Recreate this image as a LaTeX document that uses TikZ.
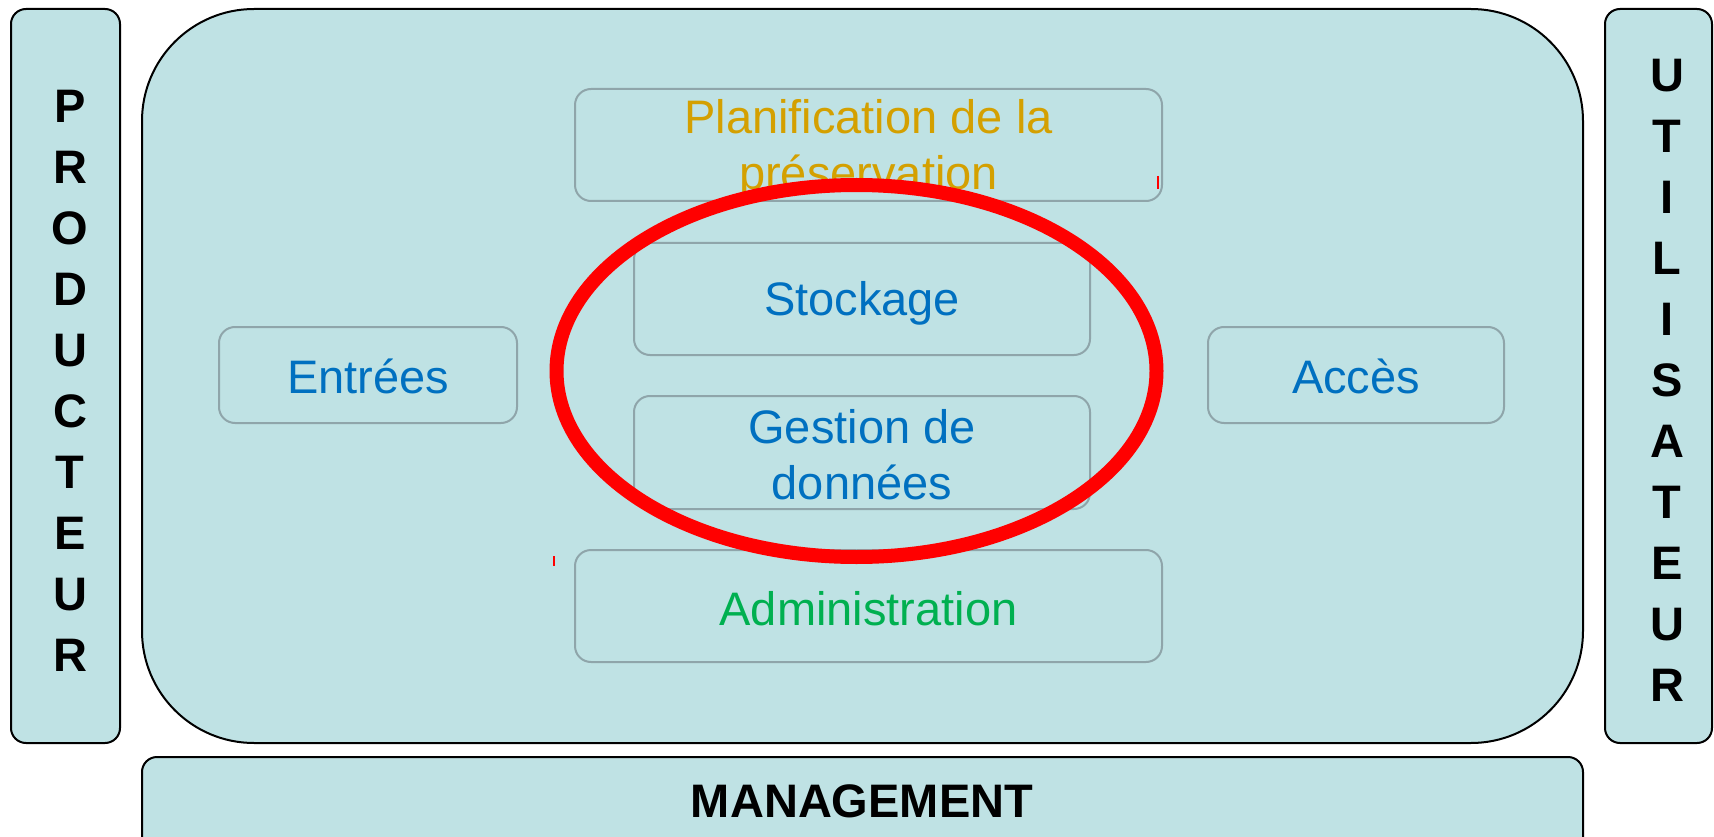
\documentclass[tikz,border=0pt]{standalone}
\usepackage{fontspec}
\setmainfont{Liberation Sans}
\usetikzlibrary{shapes.geometric}
\definecolor{panel}{RGB}{191,226,228}
\definecolor{boxgrey}{RGB}{143,165,170}
\definecolor{txtblue}{RGB}{0,112,192}
\definecolor{txtgold}{RGB}{212,160,0}
\definecolor{txtgreen}{RGB}{0,176,80}
\definecolor{marker}{RGB}{255,0,0}
\begin{document}
\begin{tikzpicture}[x=1pt,y=-1pt,
  outerbox/.style={draw=black, line width=2pt, fill=panel, rounded corners=15pt, inner sep=0pt},
  innerbox/.style={draw=boxgrey, line width=2pt, rounded corners=16pt, inner sep=0pt},
  boxlabel/.style={align=center, inner sep=0pt, font=\fontsize{47}{56}\selectfont},
  sidetext/.style={align=center, font=\bfseries\fontsize{47}{61}\selectfont, inner sep=0pt}]
\useasboundingbox (0,0) rectangle (1714,837);

% side panels and the central archive area
\node[outerbox, minimum width=109pt, minimum height=734pt] (prodbox) at (65.5,376) {};
\node[outerbox, minimum width=107pt, minimum height=734pt] (userbox) at (1658.5,376) {};
\node[outerbox, rounded corners=112pt, minimum width=1441pt, minimum height=734pt] (archive) at (862.5,376) {};
\node[outerbox, minimum width=1441pt, minimum height=110pt] (mgmtbox) at (862.5,812) {};

% vertical labels
\node[sidetext] (prod) at (70,381) {P\\R\\O\\D\\U\\C\\T\\E\\U\\R};
\node[sidetext] (user) at (1667,380) {U\\T\\I\\L\\I\\S\\A\\T\\E\\U\\R};
\node[font=\bfseries\fontsize{47}{56}\selectfont, inner sep=0pt] (mgmt) at (862,801) {MANAGEMENT};

% functional entities
\node[innerbox, minimum width=587pt, minimum height=112pt] (plan) at (868.5,145) {};
\node[innerbox, minimum width=456pt, minimum height=112pt] (stock) at (862,299) {};
\node[innerbox, minimum width=456pt, minimum height=113pt] (gest) at (862,452.5) {};
\node[innerbox, minimum width=587pt, minimum height=112pt] (admin) at (868.5,606) {};
\node[innerbox, minimum width=298pt, minimum height=96pt] (entree) at (368,375) {};
\node[innerbox, minimum width=296pt, minimum height=96pt] (acces) at (1356,375) {};

% their labels, set a little below the box centres
\node[boxlabel, text=txtgold] (planlabel) at ([yshift=-4pt]plan.center) {Planification de la\\préservation};
\node[boxlabel, text=txtblue] (stocklabel) at ([yshift=-4pt]stock.center) {Stockage};
\node[boxlabel, text=txtblue] (gestlabel) at ([yshift=-2.5pt]gest.center) {Gestion de\\données};
\node[boxlabel, text=txtgreen] (adminlabel) at ([yshift=-2.5pt]admin.center) {Administration};
\node[boxlabel, text=txtblue] (entreelabel) at ([yshift=-1.5pt]entree.center) {Entrées};
\node[boxlabel, text=txtblue] (acceslabel) at ([yshift=-1.5pt]acces.center) {Accès};

% highlight around storage and data management
\node[draw=marker, line width=14pt, ellipse, minimum width=600pt, minimum height=372pt, inner sep=0pt]
  (focus) at (856.5,371) {};

% small red ticks
\coordinate (tickA) at (1158,176);
\coordinate (tickB) at (554,556);
\draw[marker, line width=2pt] (tickA) -- ++(0,13);
\draw[marker, line width=2pt] (tickB) -- ++(0,10);
\end{tikzpicture}
\end{document}
